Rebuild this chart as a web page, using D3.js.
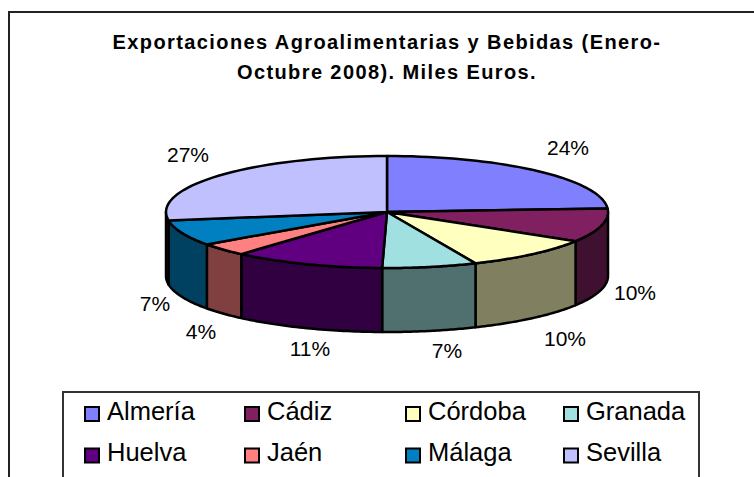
<!DOCTYPE html>
<html><head><meta charset="utf-8">
<script src="https://cdn.jsdelivr.net/npm/d3@7/dist/d3.min.js"></script>
<style>html,body{margin:0;padding:0;background:#fff}svg{display:block}text{font-family:"Liberation Sans",Arial,sans-serif;fill:#000}</style>
</head><body><svg id="c" width="754" height="477"></svg>
<script>
const categories = ["Almería","Cádiz","Córdoba","Granada","Huelva","Jaén","Málaga","Sevilla"];
const values = [24.0,9.7,9.7,6.9,11.1,3.7,7.4,27.4];
const labels = ["24%","10%","10%","7%","11%","4%","7%","27%"];
const topColors = ["#8080ff","#802060","#ffffc0","#a0e0e0","#600080","#ff8080","#0080c0","#c0c0ff"];
const sideColors = ["#404080","#401030","#808060","#507070","#300040","#804040","#004060","#606080"];
const titleLines = ["Exportaciones Agroalimentarias y Bebidas (Enero-","Octubre 2008). Miles Euros."];
const titleRows = [49,79];
const labelPos = [[568,155],[635,300],[565,346],[447,358],[310,356],[201,339],[155,311],[188,162]];
const legendCols = [84,244,405,563], legendRows = [421,462.5];

const svg = d3.select("#c");
const cx=387, cy=212, rx=221, ry=56, depth=64;
svg.append("rect").attr("x",9).attr("y",12).attr("width",760).attr("height",480).attr("fill","#fff").attr("stroke","#222").attr("stroke-width",2);

const title = svg.append("g").attr("text-anchor","middle").attr("font-weight","bold").attr("font-size",20).attr("letter-spacing",1.4);
titleLines.forEach((t,i)=>title.append("text").attr("x",387).attr("y",titleRows[i]).text(t));

const pie = d3.pie().sort(null).value(d=>d)(values);
const pt = (a,dy=0)=>[cx+rx*Math.sin(a), cy-ry*Math.cos(a)+dy];
const line = d3.line();
const arcPts = (a0,a1,dy=0)=>d3.range(0,41).map(i=>pt(a0+(a1-a0)*i/40,dy));

const H=Math.PI/2;
const walls = svg.append("g");
pie.forEach((s,i)=>{
  const a0=Math.max(s.startAngle,H), a1=Math.min(s.endAngle,3*H);
  if(a1<=a0) return;
  const pts=[...arcPts(a0,a1),...arcPts(a1,a0,depth)];
  walls.append("path").attr("d",line(pts)+"Z").attr("fill",sideColors[i]).attr("stroke","#000").attr("stroke-width",2.5).attr("stroke-linejoin","round");
});
const tops = svg.append("g");
pie.forEach((s,i)=>{
  const pts=[[cx,cy],...arcPts(s.startAngle,s.endAngle)];
  tops.append("path").attr("d",line(pts)+"Z").attr("fill",topColors[i]).attr("stroke","#000").attr("stroke-width",2.5).attr("stroke-linejoin","round");
});
const lab = svg.append("g").attr("font-size",21).attr("text-anchor","middle");
labels.forEach((t,i)=>lab.append("text").attr("x",labelPos[i][0]).attr("y",labelPos[i][1]).text(t));

svg.append("rect").attr("x",63).attr("y",392).attr("width",636).attr("height",100).attr("fill","#fff").attr("stroke","#333").attr("stroke-width",2);
const leg = svg.append("g");
categories.forEach((c,i)=>{
  const x=legendCols[i%4], y=legendRows[Math.floor(i/4)];
  leg.append("rect").attr("x",x+1).attr("y",y-14).attr("width",14).attr("height",14).attr("fill",topColors[i]).attr("stroke","#000").attr("stroke-width",2);
  leg.append("text").attr("x",x+23).attr("y",y-1.5).attr("font-size",25.5).text(c);
});
</script></body></html>
